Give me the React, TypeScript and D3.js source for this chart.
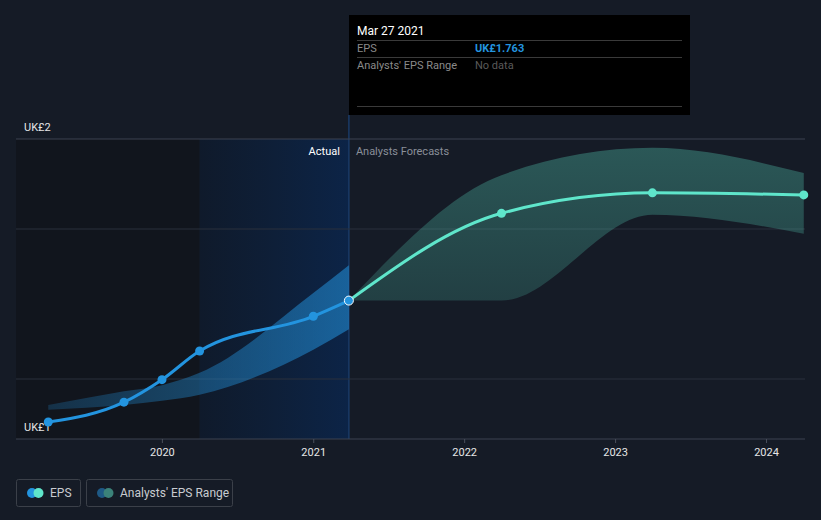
import React from "react";
import * as d3 from "d3";

const W = 821;
const H = 520;

// Actual EPS
const actualDates = ["2019-03-31", "2019-09-30", "2019-12-31", "2020-03-31", "2020-12-31", "2021-03-27"];
const actualEps = [1.585, 1.614, 1.647, 1.689, 1.74, 1.763];
// Past analysts range (around actual dates)
const pastRangeHigh = [1.61, 1.63, 1.639, 1.657, 1.774, 1.815];
const pastRangeLow = [1.603, 1.61, 1.616, 1.625, 1.691, 1.721];

// Forecast EPS
const forecastDates = ["2021-03-27", "2022-03-31", "2023-03-31", "2024-03-31"];
const forecastEps = [1.763, 1.891, 1.921, 1.918];
const forecastHigh = [1.763, 1.947, 1.987, 1.95];
const forecastLow = [1.763, 1.763, 1.889, 1.861];

const xTickYears = [2020, 2021, 2022, 2023, 2024];
const gridValues = [1.648, 1.868, 2.0];
const yLabelValues = [2.0, 1.56];
const yLabelTexts = ["UK£2", "UK£1"];

const parse = d3.timeParse("%Y-%m-%d");

export default function App() {
  const x = d3
    .scaleTime()
    .domain([parse("2019-01-12")!, parse("2024-04-03")!])
    .range([16, 805]);
  const y = d3.scaleLinear().domain([1.56, 2.0]).range([439, 139]);

  const actual = actualDates.map((d, i) => ({
    x: x(parse(d)!),
    v: actualEps[i],
    lo: pastRangeLow[i],
    hi: pastRangeHigh[i],
  }));
  const forecast = forecastDates.map((d, i) => ({
    x: x(parse(d)!),
    v: forecastEps[i],
    lo: forecastLow[i],
    hi: forecastHigh[i],
  }));

  const line = d3
    .line<any>()
    .x((d) => d.x)
    .y((d) => y(d.v))
    .curve(d3.curveMonotoneX);
  const area = d3
    .area<any>()
    .x((d) => d.x)
    .y0((d) => y(d.lo))
    .y1((d) => y(d.hi))
    .curve(d3.curveMonotoneX);

  const xNow = x(parse("2021-03-27")!);
  const xHl = x(parse("2020-03-31")!);
  const yTop = y(2.0);
  const yBot = y(1.56);
  const font = "Roboto, 'Open Sans', sans-serif";
  const last = actual[actual.length - 1];

  return (
    <svg width={W} height={H} style={{ position: "absolute", left: 0, top: 0, background: "#151b26" }} fontFamily={font}>
      <defs>
        <linearGradient id="hlGrad" x1="0" x2="1" y1="0" y2="0">
          <stop offset="0" stopColor="#0f1a2b" />
          <stop offset="0.5" stopColor="#0e1f38" />
          <stop offset="1" stopColor="#0c2447" />
        </linearGradient>
        <linearGradient id="pastBand" x1="0" x2="1" y1="0" y2="0">
          <stop offset="0" stopColor="#2394df" stopOpacity={0.22} />
          <stop offset="1" stopColor="#2394df" stopOpacity={0.55} />
        </linearGradient>
        <linearGradient id="fcBand" x1="0" x2="0" y1="0" y2="1">
          <stop offset="0" stopColor="#5ee5c9" stopOpacity={0.3} />
          <stop offset="1" stopColor="#5ee5c9" stopOpacity={0.18} />
        </linearGradient>
      </defs>
      <rect x={0} y={0} width={W} height={H} fill="#151b26" />
      {/* dark past region */}
      <rect x={16} y={yTop} width={xHl - 16} height={yBot - yTop} fill="#11151d" />
      {/* highlight last year */}
      <rect x={xHl} y={yTop} width={xNow - xHl} height={yBot - yTop} fill="url(#hlGrad)" />
      <line x1={xNow} x2={xNow} y1={115} y2={yBot} stroke="#1a3a66" strokeWidth={1.5} />

      {/* gridlines */}
      {gridValues.map((g, i) => (
        <line key={i} x1={16} x2={805} y1={y(g)} y2={y(g)} stroke={g === 2.0 ? "#3d4350" : "#2b313c"} strokeWidth={1} />
      ))}
      <line x1={16} x2={805} y1={yBot} y2={yBot} stroke="#3d4350" strokeWidth={1} />
      {xTickYears.map((yr) => {
        const tx = x(new Date(yr, 0, 1));
        return (
          <g key={yr}>
            <line x1={tx} x2={tx} y1={yBot} y2={yBot + 4} stroke="#4a505c" />
            <text x={tx} y={456} textAnchor="middle" fontSize={11} fill="#e6e6e6">
              {yr}
            </text>
          </g>
        );
      })}
      {yLabelValues.map((v, i) => (
        <text key={i} x={24} y={y(v) - 8} fontSize={11} fill="#e6e6e6">
          {yLabelTexts[i]}
        </text>
      ))}

      <text x={xNow - 9} y={155} textAnchor="end" fontSize={11} fill="#ffffff">
        Actual
      </text>
      <text x={xNow + 7} y={155} fontSize={11} fill="#8a8f99">
        Analysts Forecasts
      </text>

      {/* bands */}
      <path d={area(actual) || ""} fill="url(#pastBand)" />
      <path d={area(forecast) || ""} fill="url(#fcBand)" />

      {/* lines */}
      <path d={line(forecast) || ""} fill="none" stroke="#5fe6cb" strokeWidth={3} />
      <path d={line(actual) || ""} fill="none" stroke="#2394df" strokeWidth={3} />
      {forecast.slice(1).map((p, i) => (
        <circle key={i} cx={p.x} cy={y(p.v)} r={4.5} fill="#5fe6cb" />
      ))}
      {actual.slice(0, -1).map((p, i) => (
        <circle key={i} cx={p.x} cy={y(p.v)} r={4.5} fill="#2394df" />
      ))}
      <circle cx={last.x} cy={y(last.v)} r={4.5} fill="#2394df" stroke="#ffffff" strokeWidth={1} />

      {/* tooltip */}
      <rect x={349} y={15} width={341} height={100} fill="#000000" />
      <text x={357} y={35} fontSize={12} fill="#ffffff">
        Mar 27 2021
      </text>
      <line x1={357} x2={682} y1={40.5} y2={40.5} stroke="#3a3a3a" />
      <text x={357} y={52} fontSize={11} fill="#8a8a8a">
        EPS
      </text>
      <text x={475} y={52} fontSize={11} fill="#2394df" fontWeight="bold">
        UK£1.763
      </text>
      <line x1={357} x2={682} y1={57.5} y2={57.5} stroke="#3a3a3a" />
      <text x={357} y={69} fontSize={11} fill="#8a8a8a">
        Analysts' EPS Range
      </text>
      <text x={475} y={69} fontSize={11} fill="#5a5a5a">
        No data
      </text>
      <line x1={357} x2={682} y1={106.5} y2={106.5} stroke="#3a3a3a" />

      {/* legend */}
      <rect x={16.5} y={479.5} width={64} height={27} rx={2} fill="none" stroke="#3b4049" />
      <circle cx={32} cy={493} r={5} fill="#2394df" />
      <circle cx={38.5} cy={493} r={5} fill="#5fe6cb" />
      <text x={50} y={497} fontSize={12} fill="#c8cbd0">
        EPS
      </text>
      <rect x={86.5} y={479.5} width={146} height={27} rx={2} fill="none" stroke="#3b4049" />
      <circle cx={102} cy={493} r={5} fill="#1e5985" />
      <circle cx={108.5} cy={493} r={5} fill="#3b8279" />
      <text x={120} y={497} fontSize={12} fill="#c8cbd0">
        Analysts' EPS Range
      </text>
    </svg>
  );
}
